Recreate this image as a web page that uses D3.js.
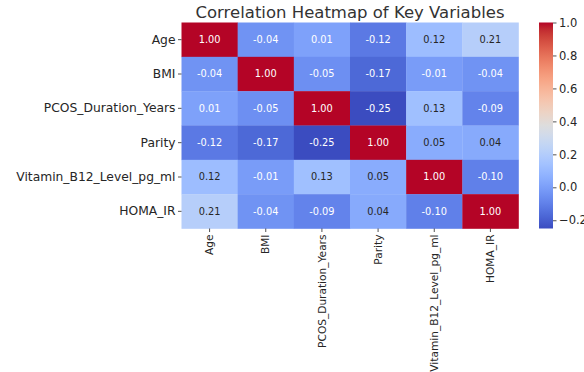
<!DOCTYPE html>
<html>
<head>
<meta charset="utf-8">
<script src="https://cdn.jsdelivr.net/npm/d3@7"></script>
<style>
  body { margin: 0; background: #fff; }
  text { font-family: "DejaVu Sans", sans-serif; }
</style>
</head>
<body>
<svg id="chart" width="584" height="372"></svg>
<script>
// variables (rows and columns are the same list)
let variables = ["Age", "BMI", "PCOS_Duration_Years", "Parity", "Vitamin_B12_Level_pg_ml", "HOMA_IR"];

// correlation values, one row per variable
let ageRow    = [1.00, -0.04, 0.01, -0.12, 0.12, 0.21];
let bmiRow    = [-0.04, 1.00, -0.05, -0.17, -0.01, -0.04];
let pcosRow   = [0.01, -0.05, 1.00, -0.25, 0.13, -0.09];
let parityRow = [-0.12, -0.17, -0.25, 1.00, 0.05, 0.04];
let vitB12Row = [0.12, -0.01, 0.13, 0.05, 1.00, -0.10];
let homaRow   = [0.21, -0.04, -0.09, 0.04, -0.10, 1.00];
let matrix = [ageRow, bmiRow, pcosRow, parityRow, vitB12Row, homaRow];

let colorbarTicks = [-0.2, 0.0, 0.2, 0.4, 0.6, 0.8, 1.0];
let vmin = -0.25, vmax = 1.0;

// coolwarm colormap stops (Moreland)
let coolwarm = [
  [59,76,192],[68,90,204],[77,104,215],[87,117,225],[98,130,234],[108,142,241],
  [119,154,247],[130,165,251],[141,176,254],[152,185,255],[163,194,255],[174,201,253],
  [184,208,249],[194,213,244],[204,217,238],[213,219,230],[221,221,221],[229,216,209],
  [236,211,197],[241,204,185],[245,196,173],[247,187,160],[247,177,148],[247,166,135],
  [244,154,123],[241,141,111],[236,127,99],[229,112,88],[222,96,77],[213,80,66],
  [203,62,56],[192,40,47],[180,4,38]
].map(c => `rgb(${c[0]},${c[1]},${c[2]})`);
let cmap = d3.piecewise(d3.interpolateRgb, coolwarm);
let norm = d3.scaleLinear().domain([vmin, vmax]).range([0, 1]).clamp(true);
let color = v => cmap(norm(v));

function luminance(c) {
  let rgb = d3.rgb(c);
  let lin = x => { x /= 255; return x <= 0.03928 ? x / 12.92 : Math.pow((x + 0.055) / 1.055, 2.4); };
  return 0.2126 * lin(rgb.r) + 0.7152 * lin(rgb.g) + 0.0722 * lin(rgb.b);
}

let svg = d3.select("#chart");
let textColor = "#262626";

let x = d3.scaleBand().domain(variables).range([181.5, 518.5]);
let y = d3.scaleBand().domain(variables).range([22.5, 228.5]);

let cells = [];
matrix.forEach((row, i) => row.forEach((v, j) => cells.push({ r: variables[i], c: variables[j], v: v })));

let heat = svg.append("g");
heat.selectAll("rect")
  .data(cells)
  .enter().append("rect")
  .attr("x", d => x(d.c))
  .attr("y", d => y(d.r))
  .attr("width", x.bandwidth() + 0.3)
  .attr("height", y.bandwidth() + 0.3)
  .attr("fill", d => color(d.v));

heat.selectAll("text")
  .data(cells)
  .enter().append("text")
  .attr("x", d => x(d.c) + x.bandwidth() / 2)
  .attr("y", d => y(d.r) + y.bandwidth() / 2)
  .attr("dy", "0.35em")
  .attr("text-anchor", "middle")
  .attr("font-size", "9.8px")
  .attr("fill", d => luminance(color(d.v)) > 0.4 ? textColor : "#fff")
  .text(d => d.v.toFixed(2));

// y axis
let yAxis = svg.append("g")
  .attr("transform", "translate(181.5,0)")
  .call(d3.axisLeft(y).tickSize(3.5).tickPadding(2.5));
yAxis.select(".domain").remove();
yAxis.selectAll("line").attr("stroke", textColor).attr("stroke-width", 0.8);
yAxis.selectAll("text").attr("font-size", "12.3px").attr("fill", textColor)
  .attr("font-family", "DejaVu Sans");

// x axis, labels rotated
let xAxis = svg.append("g")
  .attr("transform", "translate(0,228.5)")
  .call(d3.axisBottom(x).tickSize(3.5).tickPadding(0));
xAxis.select(".domain").remove();
xAxis.selectAll("line").attr("stroke", textColor).attr("stroke-width", 0.8);
xAxis.selectAll("text")
  .attr("font-size", "10.6px").attr("fill", textColor)
  .attr("font-family", "DejaVu Sans")
  .attr("transform", "rotate(-90)")
  .attr("text-anchor", "end")
  .attr("x", -6)
  .attr("y", 0)
  .attr("dy", "0.35em");

// title
svg.append("text")
  .attr("x", 350)
  .attr("y", 18)
  .attr("text-anchor", "middle")
  .attr("font-size", "16.5px")
  .attr("fill", "#333")
  .text("Correlation Heatmap of Key Variables");

// colorbar
let cb = d3.scaleLinear().domain([vmin, vmax]).range([228.5, 22.5]);
let defs = svg.append("defs");
let grad = defs.append("linearGradient")
  .attr("id", "cbgrad")
  .attr("x1", 0).attr("y1", 1).attr("x2", 0).attr("y2", 0);
d3.range(0, 1.0001, 1 / 32).forEach(t => {
  grad.append("stop").attr("offset", t).attr("stop-color", cmap(t));
});
svg.append("rect")
  .attr("x", 539)
  .attr("y", 22.5)
  .attr("width", 14)
  .attr("height", 206)
  .attr("fill", "url(#cbgrad)");

let cbAxis = svg.append("g")
  .attr("transform", "translate(553,0)")
  .call(d3.axisRight(cb).tickValues(colorbarTicks).tickSize(3.5).tickPadding(2.5)
    .tickFormat(d => d3.format(".1f")(d).replace("-", "\u2212")));
cbAxis.select(".domain").remove();
cbAxis.selectAll("line").attr("stroke", textColor).attr("stroke-width", 0.8);
cbAxis.selectAll("text").attr("font-size", "11.5px").attr("fill", textColor)
  .attr("font-family", "DejaVu Sans");
</script>
</body>
</html>
